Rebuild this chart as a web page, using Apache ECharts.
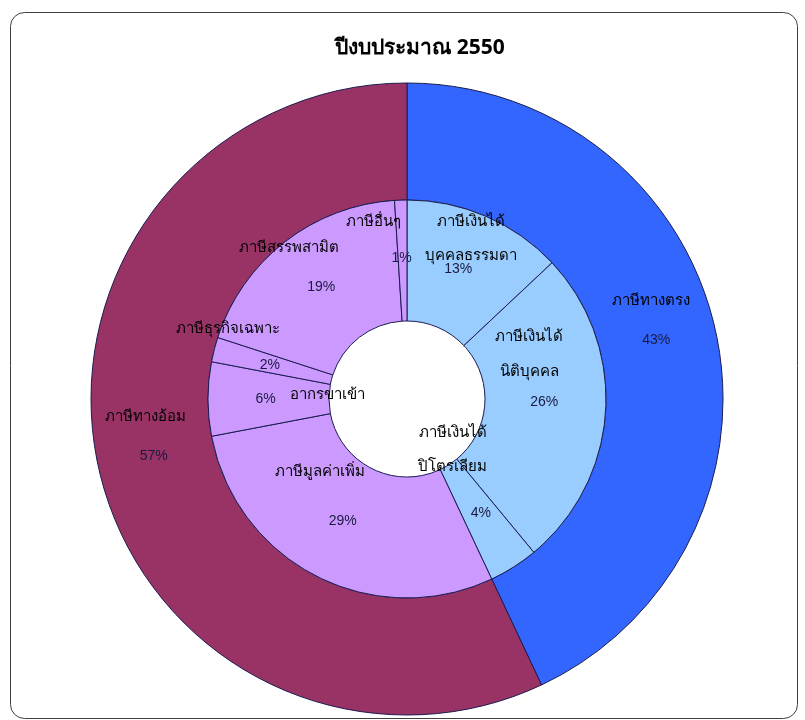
<!DOCTYPE html>
<html>
<head>
<meta charset="utf-8">
<script src="https://cdn.jsdelivr.net/npm/echarts@6/dist/echarts.min.js"></script>
<style>
html,body{margin:0;padding:0;background:#fff;}
#c{width:805px;height:720px;}
</style>
</head>
<body>
<div id="c"></div>
<script>
// ---- data ----
const titleText = 'ปีงบประมาณ 2550';
const outerNames = ['ภาษีทางตรง', 'ภาษีทางอ้อม'];
const outerValues = [43, 57];
const innerNames = ['ภาษีเงินได้บุคคลธรรมดา', 'ภาษีเงินได้นิติบุคคล', 'ภาษีเงินได้ปิโตรเลียม',
  'ภาษีมูลค่าเพิ่ม', 'อากรขาเข้า', 'ภาษีธุรกิจเฉพาะ', 'ภาษีสรรพสามิต', 'ภาษีอื่นๆ'];
const innerLabelText = ['ภาษีเงินได้\nบุคคลธรรมดา', 'ภาษีเงินได้\nนิติบุคคล', 'ภาษีเงินได้\nปิโตรเลียม',
  'ภาษีมูลค่าเพิ่ม', 'อากรขาเข้า', 'ภาษีธุรกิจเฉพาะ', 'ภาษีสรรพสามิต', 'ภาษีอื่นๆ'];
const innerValues = [13, 26, 4, 29, 6, 2, 19, 1];

// ---- styles ----
const FONT = 'Tahoma, "Noto Sans", "DejaVu Sans", sans-serif';
const PFONT = 'Arial, "Liberation Sans", sans-serif';
const outerColors = ['#3366FF', '#993366'];
const innerColors = ['#99CCFF', '#99CCFF', '#99CCFF', '#CC99FF', '#CC99FF', '#CC99FF', '#CC99FF', '#CC99FF'];
const edge = '#1c1c50';
const outerPctOffset = [[-5, -2], [1, 0]];
const outerNameOffset = [[-10, -41], [-7, -39]];
const innerPctOffset = [[-5, 0], [-4, -6], [-2, -5], [0, -4], [0, 0], [0, 1], [1, 0], [-1, 1]];
const innerNameOffset = [[8, -30], [-19, -54], [-30, -69], [-23, -53], [62, -4], [-42, -35], [-31, -39], [-29, -36]];
const innerLineH = [34, 35, 34, 18, 18, 18, 18, 18];

const CX = 407, CY = 399;

function pctData(names, values, colors, offsets) {
  return values.map((v, i) => ({
    name: names[i], value: v,
    itemStyle: { color: colors[i] },
    label: { offset: offsets[i] }
  }));
}
function nameData(names, values, texts, offsets, lh) {
  return values.map((v, i) => ({
    name: names[i], value: v,
    label: { offset: offsets[i], formatter: texts[i], lineHeight: lh ? lh[i] : 18 }
  }));
}

const baseSeries = {
  type: 'pie',
  center: [CX, CY],
  startAngle: 90,
  clockwise: true,
  avoidLabelOverlap: false,
  labelLine: { show: false },
  labelLayout: { hideOverlap: false },
  emphasis: { disabled: true },
  animation: false
};

const option = {
  backgroundColor: '#ffffff',
  title: {
    text: titleText, left: 415, top: 33, textAlign: 'center',
    textStyle: { fontFamily: FONT, fontSize: 21, fontWeight: 'bold', color: '#000' }
  },
  graphic: [{
    type: 'rect', silent: true,
    shape: { x: 10.5, y: 12.5, width: 787, height: 706, r: 14 },
    style: { fill: 'none', stroke: '#404040', lineWidth: 1 }
  }],
  series: [
    Object.assign({}, baseSeries, {
      name: 'outer', radius: [199, 316],
      itemStyle: { borderColor: edge, borderWidth: 1 },
      label: { show: true, position: 'inside', fontFamily: PFONT, fontSize: 14, color: '#1a1a40', formatter: p => p.value + '%' },
      data: pctData(outerNames, outerValues, outerColors, outerPctOffset)
    }),
    Object.assign({}, baseSeries, {
      name: 'outerNames', radius: [199, 316], silent: true,
      itemStyle: { color: 'rgba(0,0,0,0)', borderWidth: 0 },
      label: { show: true, position: 'inside', fontFamily: FONT, fontSize: 15, color: '#000' },
      data: nameData(outerNames, outerValues, outerNames, outerNameOffset)
    }),
    Object.assign({}, baseSeries, {
      name: 'inner', radius: [78, 199],
      itemStyle: { borderColor: edge, borderWidth: 1 },
      label: { show: true, position: 'inside', fontFamily: PFONT, fontSize: 14, color: '#1a1a40', formatter: p => p.value + '%' },
      data: pctData(innerNames, innerValues, innerColors, innerPctOffset)
    }),
    Object.assign({}, baseSeries, {
      name: 'innerNames', radius: [78, 199], silent: true,
      itemStyle: { color: 'rgba(0,0,0,0)', borderWidth: 0 },
      label: { show: true, position: 'inside', fontFamily: FONT, fontSize: 15, color: '#000' },
      data: nameData(innerNames, innerValues, innerLabelText, innerNameOffset, innerLineH)
    })
  ]
};

const chart = echarts.init(document.getElementById('c'), null, { renderer: 'canvas' });
chart.setOption(option);
</script>
</body>
</html>
